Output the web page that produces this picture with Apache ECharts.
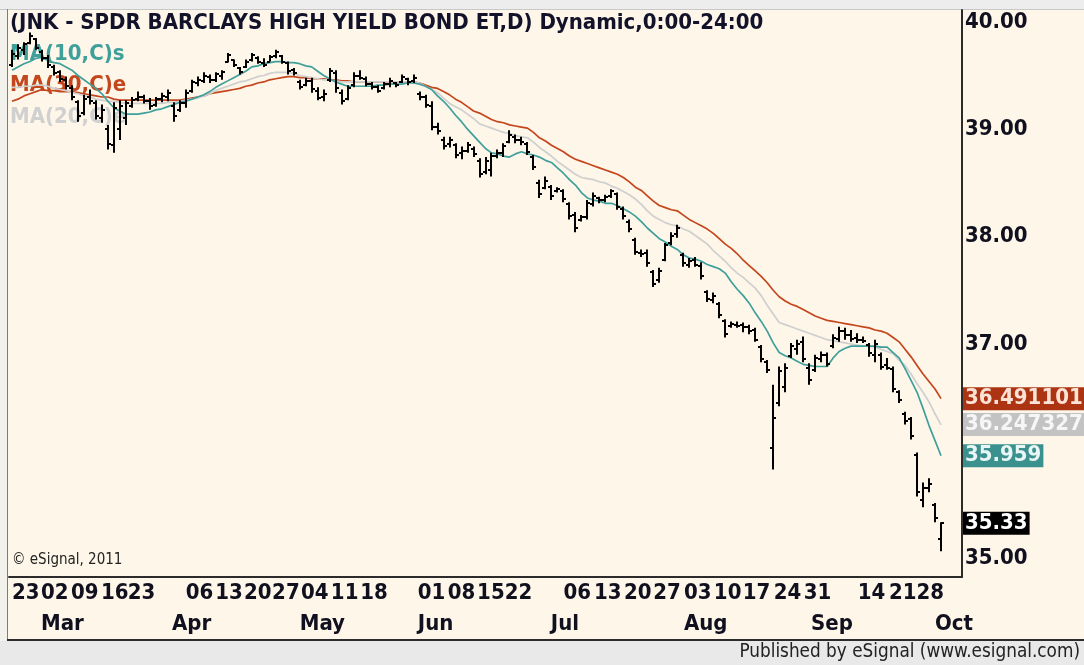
<!DOCTYPE html>
<html>
<head>
<meta charset="utf-8">
<script src="https://cdn.jsdelivr.net/npm/echarts@6/dist/echarts.min.js"></script>
<style>
  html, body { margin: 0; padding: 0; background: #fdf6e9; }
  #main { width: 1084px; height: 665px; }
</style>
</head>
<body>
<div id="main"></div>
<script>
// daily bars (one entry per trading day)
const opens = [
  39.60,39.68,39.74,39.80,39.84,39.72,39.66,39.58,39.53,39.46,
  39.38,39.25,39.15,39.30,39.24,39.10,39.00,38.85,39.00,39.10,
  39.22,39.28,39.30,39.26,39.23,39.28,39.30,39.22,39.18,39.24,
  39.36,39.43,39.45,39.49,39.46,39.50,39.63,39.64,39.57,39.58,
  39.64,39.66,39.62,39.63,39.68,39.68,39.62,39.55,39.44,39.41,
  39.45,39.36,39.30,39.46,39.52,39.34,39.28,39.41,39.50,39.47,
  39.42,39.39,39.38,39.42,39.43,39.44,39.47,39.45,39.33,39.30,
  39.22,39.02,38.90,38.86,38.85,38.78,38.80,38.82,38.70,38.60,
  38.62,38.75,38.78,38.88,38.93,38.90,38.86,38.74,38.50,38.45,
  38.46,38.42,38.42,38.30,38.20,38.15,38.18,38.30,38.36,38.34,
  38.38,38.40,38.26,38.14,37.97,37.85,37.85,37.67,37.60,37.78,
  37.94,38.02,37.83,37.74,37.78,37.73,37.48,37.41,37.37,37.21,
  37.17,37.18,37.18,37.16,37.13,36.97,36.83,36.03,36.45,36.60,
  36.89,36.95,37.02,36.78,36.76,36.86,36.90,36.98,37.05,37.12,
  37.08,37.06,37.04,36.99,36.90,36.90,36.80,36.77,36.55,36.35,
  36.30,35.97,35.55,35.66,35.50,35.18
];
const highs = [
  39.74,39.79,39.81,39.90,39.85,39.74,39.69,39.60,39.55,39.49,
  39.41,39.27,39.32,39.37,39.27,39.23,39.04,39.25,39.27,39.27,
  39.30,39.35,39.32,39.29,39.30,39.34,39.37,39.25,39.27,39.37,
  39.46,39.49,39.53,39.51,39.53,39.55,39.71,39.65,39.58,39.65,
  39.71,39.68,39.66,39.69,39.74,39.69,39.63,39.57,39.46,39.48,
  39.48,39.39,39.37,39.57,39.55,39.37,39.41,39.53,39.55,39.49,
  39.44,39.41,39.44,39.48,39.44,39.51,39.48,39.51,39.35,39.32,
  39.26,39.06,38.93,38.93,38.87,38.84,38.88,38.84,38.73,38.74,
  38.78,38.81,38.87,38.99,38.95,38.93,38.88,38.76,38.53,38.56,
  38.48,38.46,38.44,38.32,38.23,38.20,38.34,38.41,38.37,38.39,
  38.44,38.41,38.28,38.16,37.99,37.88,37.88,37.69,37.71,37.94,
  38.04,38.11,37.85,37.80,37.81,37.76,37.50,37.48,37.39,37.23,
  37.21,37.21,37.20,37.18,37.15,36.99,36.85,36.62,36.79,36.82,
  37.01,37.04,37.07,36.82,36.90,36.93,36.92,37.09,37.16,37.15,
  37.13,37.10,37.07,37.01,37.04,36.92,36.87,36.79,36.57,36.37,
  36.32,35.99,35.71,35.75,35.52,35.34
];
const lows = [
  39.58,39.65,39.69,39.79,39.74,39.63,39.57,39.50,39.44,39.37,
  39.27,39.07,39.13,39.23,39.09,39.06,38.81,38.78,38.90,39.04,
  39.20,39.26,39.24,39.18,39.21,39.25,39.26,39.07,39.16,39.20,
  39.34,39.40,39.43,39.43,39.44,39.46,39.62,39.58,39.51,39.57,
  39.63,39.61,39.58,39.63,39.66,39.61,39.51,39.50,39.37,39.40,
  39.34,39.27,39.26,39.44,39.34,39.23,39.27,39.39,39.46,39.40,
  39.37,39.34,39.37,39.39,39.39,39.43,39.41,39.43,39.27,39.20,
  38.99,38.95,38.81,38.83,38.73,38.72,38.78,38.74,38.55,38.58,
  38.56,38.73,38.74,38.87,38.87,38.85,38.76,38.62,38.36,38.44,
  38.34,38.41,38.32,38.16,38.04,38.14,38.16,38.28,38.31,38.32,
  38.36,38.25,38.16,38.04,37.83,37.81,37.72,37.53,37.57,37.77,
  37.92,37.99,37.72,37.71,37.72,37.60,37.39,37.38,37.24,37.06,
  37.15,37.15,37.11,37.09,37.02,36.83,36.73,35.83,36.42,36.55,
  36.87,36.90,36.83,36.62,36.74,36.83,36.79,36.96,37.02,37.04,
  37.02,37.01,37.01,36.88,36.83,36.76,36.76,36.55,36.45,36.25,
  36.11,35.58,35.48,35.62,35.34,35.07
];
const closes = [
  39.70,39.76,39.79,39.87,39.76,39.66,39.60,39.52,39.47,39.40,
  39.30,39.12,39.28,39.26,39.12,39.18,38.86,39.20,39.22,39.24,
  39.27,39.30,39.26,39.22,39.28,39.31,39.34,39.12,39.24,39.34,
  39.44,39.46,39.50,39.46,39.51,39.53,39.69,39.60,39.53,39.63,
  39.69,39.63,39.60,39.67,39.72,39.63,39.54,39.52,39.39,39.45,
  39.37,39.29,39.33,39.54,39.38,39.26,39.38,39.50,39.48,39.42,
  39.39,39.36,39.42,39.45,39.41,39.49,39.44,39.48,39.30,39.23,
  39.02,38.98,38.84,38.90,38.76,38.80,38.85,38.77,38.58,38.70,
  38.75,38.78,38.84,38.95,38.90,38.88,38.79,38.65,38.40,38.52,
  38.38,38.44,38.35,38.19,38.08,38.18,38.31,38.38,38.34,38.37,
  38.42,38.28,38.19,38.07,37.86,37.84,37.75,37.56,37.68,37.92,
  38.01,38.08,37.75,37.77,37.74,37.63,37.42,37.45,37.27,37.09,
  37.19,37.17,37.16,37.12,37.04,36.86,36.76,36.31,36.75,36.78,
  36.98,37.00,36.86,36.66,36.87,36.90,36.81,37.06,37.12,37.08,
  37.05,37.04,37.03,36.92,37.00,36.79,36.78,36.58,36.48,36.28,
  36.14,35.62,35.66,35.70,35.38,35.33
];
// MA(10,C)s
const ma10 = [
  39.55,39.58,39.61,39.63,39.66,39.67,39.64,39.62,39.61,39.58,
  39.55,39.50,39.46,39.42,39.38,39.33,39.26,39.20,39.17,39.14,
  39.14,39.14,39.15,39.16,39.18,39.19,39.21,39.23,39.25,39.26,
  39.28,39.30,39.32,39.35,39.39,39.42,39.45,39.48,39.51,39.54,
  39.58,39.59,39.61,39.62,39.63,39.63,39.62,39.62,39.61,39.59,
  39.58,39.54,39.50,39.47,39.44,39.42,39.40,39.40,39.40,39.40,
  39.40,39.41,39.41,39.42,39.42,39.42,39.43,39.43,39.42,39.40,
  39.37,39.31,39.26,39.20,39.13,39.07,39.00,38.94,38.88,38.82,
  38.78,38.77,38.75,38.74,38.77,38.79,38.77,38.76,38.74,38.71,
  38.69,38.64,38.59,38.53,38.48,38.41,38.36,38.34,38.33,38.31,
  38.31,38.29,38.26,38.23,38.19,38.14,38.08,38.03,37.98,37.95,
  37.91,37.88,37.83,37.80,37.79,37.77,37.74,37.72,37.70,37.66,
  37.58,37.51,37.45,37.38,37.29,37.21,37.12,37.01,36.92,36.89,
  36.87,36.84,36.81,36.80,36.79,36.79,36.79,36.87,36.93,36.96,
  36.98,36.98,36.98,36.98,36.98,36.97,36.97,36.92,36.87,36.77,
  36.66,36.55,36.40,36.24,36.10,35.959
];
// MA(20,C)
const ma20 = [
  39.39,39.39,39.40,39.40,39.41,39.41,39.40,39.38,39.37,39.36,
  39.34,39.33,39.31,39.30,39.28,39.27,39.26,39.26,39.25,39.24,
  39.24,39.24,39.24,39.24,39.24,39.24,39.25,39.25,39.26,39.27,
  39.28,39.29,39.31,39.33,39.36,39.38,39.40,39.42,39.44,39.45,
  39.47,39.49,39.50,39.52,39.53,39.53,39.53,39.52,39.50,39.49,
  39.48,39.47,39.46,39.46,39.45,39.44,39.44,39.44,39.44,39.44,
  39.44,39.44,39.44,39.44,39.44,39.44,39.44,39.44,39.43,39.40,
  39.37,39.34,39.29,39.24,39.21,39.18,39.14,39.10,39.05,39.03,
  39.01,38.99,38.97,38.96,38.94,38.93,38.92,38.88,38.83,38.79,
  38.75,38.70,38.66,38.62,38.58,38.55,38.54,38.53,38.51,38.50,
  38.47,38.45,38.42,38.39,38.35,38.30,38.24,38.19,38.16,38.13,
  38.11,38.10,38.07,38.05,38.01,37.97,37.93,37.87,37.82,37.77,
  37.71,37.66,37.62,37.57,37.52,37.45,37.36,37.28,37.20,37.18,
  37.16,37.14,37.12,37.10,37.08,37.06,37.04,37.03,37.02,37.01,
  37.00,36.99,36.98,36.98,36.97,36.95,36.93,36.91,36.85,36.80,
  36.72,36.63,36.55,36.46,36.35,36.247327
];
// MA(30,C)e
const ma30 = [
  39.26,39.28,39.31,39.33,39.35,39.37,39.36,39.36,39.35,39.35,
  39.35,39.34,39.33,39.32,39.31,39.30,39.30,39.28,39.27,39.27,
  39.27,39.27,39.27,39.27,39.27,39.27,39.27,39.27,39.27,39.28,
  39.29,39.30,39.31,39.33,39.34,39.35,39.36,39.37,39.38,39.40,
  39.41,39.43,39.44,39.46,39.47,39.48,39.49,39.49,39.48,39.48,
  39.47,39.47,39.47,39.46,39.46,39.45,39.45,39.44,39.44,39.44,
  39.44,39.44,39.44,39.44,39.44,39.44,39.44,39.44,39.43,39.41,
  39.39,39.38,39.35,39.32,39.28,39.25,39.21,39.17,39.15,39.12,
  39.09,39.07,39.06,39.04,39.03,39.02,39.01,38.97,38.92,38.89,
  38.85,38.82,38.79,38.75,38.72,38.70,38.68,38.66,38.64,38.62,
  38.60,38.58,38.55,38.51,38.46,38.43,38.38,38.33,38.29,38.27,
  38.25,38.24,38.20,38.16,38.13,38.10,38.07,38.03,37.98,37.93,
  37.89,37.84,37.78,37.73,37.68,37.63,37.57,37.50,37.44,37.40,
  37.37,37.35,37.32,37.29,37.26,37.24,37.22,37.21,37.20,37.19,
  37.18,37.17,37.16,37.15,37.13,37.12,37.10,37.06,37.02,36.95,
  36.88,36.80,36.72,36.65,36.58,36.491101
];
// x-axis labels: [position in bar units, text]
const dayTicks = [
  [0,'23'],[4.84,'02'],[9.84,'09'],[14.85,'16'],[19.3,'23'],
  [29.0,'06'],[33.9,'13'],[38.7,'20'],[43.4,'27'],[48.2,'04'],[53.2,'11'],[58.1,'18'],
  [67.7,'01'],[72.7,'08'],[77.6,'15'],[82.2,'22'],
  [92.0,'06'],[97.1,'13'],[102.1,'20'],[107.0,'27'],
  [112.1,'03'],[117.1,'10'],[121.9,'17'],[127.1,'24'],[132.1,'31'],
  [141.1,'14'],[146.3,'21'],[150.9,'28']
];
const monthTicks = [
  [4.84,'Mar'],[26.7,'Apr'],[48.0,'May'],[67.7,'Jun'],[89.9,'Jul'],[112.1,'Aug'],[133.3,'Sep'],[154.0,'Oct']
];
const priceTicks = [35, 37, 38, 39, 40];
const slotCount = 159; // a few empty slots after the last bar

const FONT = '"DejaVu Sans Condensed", "DejaVu Sans", sans-serif';
const dayText = {};
dayTicks.forEach(d => { dayText[d[0].toFixed(2)] = d[1]; });
const monthText = {};
monthTicks.forEach(m => { monthText[m[0].toFixed(2)] = m[1]; });

const bars = opens.map((o, i) => [i, o, highs[i], lows[i], closes[i]]);
const withIndex = arr => arr.map((v, i) => [i, v]);
const last = closes.length - 1;

function tag(value, text, bg, color) {
  return {
    yAxis: value,
    label: {
      show: true, position: 'end', distance: 1, formatter: text,
      backgroundColor: bg, color: color, padding: [1, 2, 0, 2],
      fontFamily: FONT, fontWeight: 'bold', fontSize: 22
    }
  };
}

function dateAxis(ticks, lookup, offset, showLine) {
  return {
    type: 'value',
    min: -0.5,
    max: slotCount - 0.5,
    position: 'bottom',
    offset: offset,
    splitLine: { show: false },
    axisLine: { show: showLine, onZero: false, lineStyle: { color: '#2b2b2b', width: 2 } },
    axisTick: { show: false },
    axisLabel: {
      customValues: ticks.map(t => t[0]),
      formatter: v => lookup[v.toFixed(2)] || '',
      align: 'left', margin: 5,
      color: '#10101e', fontFamily: FONT, fontWeight: 'bold', fontSize: 22
    }
  };
}

const chart = echarts.init(document.getElementById('main'));
const option = {
  animation: false,
  backgroundColor: '#fdf6e9',
  grid: { left: 9, right: 122, top: 10, bottom: 88 },
  xAxis: [
    dateAxis(dayTicks, dayText, 0, true),
    dateAxis(monthTicks, monthText, 31, false)
  ],
  yAxis: {
    type: 'value',
    position: 'right',
    min: 34.83,
    max: 40.11,
    splitLine: { show: false },
    axisLine: { show: true, onZero: false, lineStyle: { color: '#2b2b2b', width: 2 } },
    axisTick: { show: false },
    axisLabel: {
      customValues: priceTicks,
      formatter: v => v.toFixed(2),
      margin: 3,
      color: '#10101e', fontFamily: FONT, fontWeight: 'bold', fontSize: 22
    }
  },
  graphic: [
    { type: 'rect', z: 0, shape: { x: 0, y: 0, width: 1084, height: 9 }, style: { fill: '#ededed' } },
    { type: 'rect', z: 0, shape: { x: 0, y: 9, width: 7, height: 632 }, style: { fill: '#f3f1ec' } },
    { type: 'rect', z: 0, shape: { x: 0, y: 641, width: 1084, height: 24 }, style: { fill: '#e9e9e9' } },
    { type: 'line', z: 0, shape: { x1: 0, y1: 9.5, x2: 1084, y2: 9.5 }, style: { stroke: '#c8c8c8', lineWidth: 1 } },
    { type: 'line', z: 0, shape: { x1: 7.5, y1: 9, x2: 7.5, y2: 641 }, style: { stroke: '#7c7c7c', lineWidth: 1 } },
    { type: 'line', z: 0, shape: { x1: 7, y1: 640, x2: 1084, y2: 640 }, style: { stroke: '#2b2b2b', lineWidth: 2 } },
    { type: 'text', z: 1, left: 10, top: 12, style: { text: '(JNK - SPDR BARCLAYS HIGH YIELD BOND ET,D) Dynamic,0:00-24:00', fill: '#12122a', font: 'bold 22px ' + FONT } },
    { type: 'text', z: 1, left: 10, top: 43, style: { text: 'MA(10,C)s', fill: '#3f9f9b', font: 'bold 22px ' + FONT } },
    { type: 'text', z: 1, left: 10, top: 74, style: { text: 'MA(30,C)e', fill: '#c4461c', font: 'bold 22px ' + FONT } },
    { type: 'text', z: 1, left: 10, top: 106, style: { text: 'MA(20,C)e', fill: '#d0d0d0', font: 'bold 22px ' + FONT } },
    { type: 'text', z: 1, left: 12, top: 553, style: { text: '\u00a9 eSignal, 2011', fill: '#222', font: '15px ' + FONT } },
    { type: 'text', z: 1, right: 4, top: 643, style: { text: 'Published by eSignal (www.esignal.com)', fill: '#222', font: '18.8px ' + FONT } }
  ],
  series: [
    {
      name: 'MA(30,C)e', type: 'line', data: withIndex(ma30), showSymbol: false, z: 3,
      lineStyle: { color: '#c4461c', width: 1.7 },
      markLine: {
        silent: true, symbol: ['none', 'none'],
        lineStyle: { color: 'rgba(0,0,0,0)', width: 0 },
        data: [
          tag(ma30[last], String(ma30[last]), '#ad3412', '#fbe2d6'),
          tag(ma20[last], String(ma20[last]), '#c3c3c3', '#f6f6f6'),
          tag(ma10[last], String(ma10[last]), '#3b918d', '#e8f6f5'),
          tag(closes[last], closes[last].toFixed(2), '#000000', '#ffffff')
        ]
      }
    },
    {
      name: 'MA(20,C)', type: 'line', data: withIndex(ma20), showSymbol: false, z: 3,
      lineStyle: { color: '#cfcfcf', width: 1.7 }
    },
    {
      name: 'MA(10,C)s', type: 'line', data: withIndex(ma10), showSymbol: false, z: 3,
      lineStyle: { color: '#3f9f9b', width: 1.7 }
    },
    {
      name: 'JNK', type: 'custom', z: 4,
      data: bars,
      encode: { x: 0, y: [1, 2, 3, 4] },
      renderItem: function (params, api) {
        const idx = api.value(0);
        const x = Math.round(api.coord([idx, api.value(2)])[0]);
        const yH = api.coord([idx, api.value(2)])[1];
        const yL = api.coord([idx, api.value(3)])[1];
        const yO = Math.round(api.coord([idx, api.value(1)])[1]);
        const yC = Math.round(api.coord([idx, api.value(4)])[1]);
        const st = { stroke: '#000', lineWidth: 2 };
        return {
          type: 'group',
          children: [
            { type: 'line', shape: { x1: x, y1: yH, x2: x, y2: yL }, style: st },
            { type: 'line', shape: { x1: x - 3, y1: yO, x2: x, y2: yO }, style: st },
            { type: 'line', shape: { x1: x, y1: yC, x2: x + 3, y2: yC }, style: st }
          ]
        };
      }
    }
  ]
};
chart.setOption(option);
</script>
</body>
</html>
